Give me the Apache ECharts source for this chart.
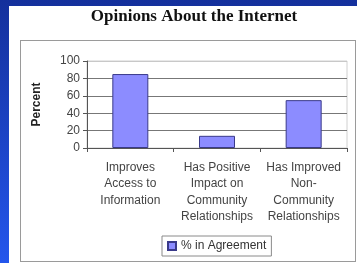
<!DOCTYPE html>
<html>
<head>
<meta charset="utf-8">
<script src="https://cdn.jsdelivr.net/npm/echarts@6/dist/echarts.min.js"></script>
<style>
  html, body { margin: 0; padding: 0; }
  #bg { position: absolute; left: 0; top: 0; width: 357px; height: 263px;
        background: linear-gradient(to bottom, #14309c, #2456ec); }
  #panel { position: absolute; left: 9px; top: 6px; width: 348px; height: 257px; background: #fff; }
  #box { position: absolute; left: 20px; top: 40px; width: 334px; height: 220px; border: 1px solid #9a9a9a; }
  #main { position: absolute; left: 0; top: 0; width: 357px; height: 263px; }
</style>
</head>
<body>
<div id="bg"></div>
<div id="panel"></div>
<div id="box"></div>
<div id="main"></div>
<script>
// 数据
var categories = [
  'Improves\nAccess to\nInformation',
  'Has Positive\nImpact on\nCommunity\nRelationships',
  'Has Improved\nNon-\nCommunity\nRelationships'
];
var agreement = [85, 14, 55];
var seriesName = '% in Agreement';

var myChart = echarts.init(document.getElementById('main'));
myChart.setOption({
  title: {
    text: 'Opinions About the Internet',
    left: 189,
    textAlign: 'center',
    top: 3,
    textStyle: { fontFamily: 'Liberation Serif', fontWeight: 'bold', fontSize: 17, color: '#111' }
  },
  legend: {
    data: [seriesName],
    left: 162,
    top: 236,
    padding: [4, 5, 4, 5],
    borderColor: '#8a8a8a',
    borderWidth: 1,
    icon: 'rect',
    itemWidth: 8,
    itemHeight: 8,
    itemGap: 4,
    textStyle: { fontFamily: 'Liberation Sans', fontSize: 12, color: '#333' }
  },
  grid: {
    left: 87,
    right: 10,
    top: 61,
    bottom: 115,
    show: true,
    borderColor: '#d0d0d0',
    borderWidth: 1
  },
  xAxis: {
    type: 'category',
    data: categories,
    axisLine: { lineStyle: { color: '#555' } },
    axisTick: { show: true, length: 4, lineStyle: { color: '#555' } },
    axisLabel: {
      margin: 11,
      lineHeight: 16.5,
      fontFamily: 'Liberation Sans',
      fontSize: 12,
      color: '#444',
      interval: 0
    }
  },
  yAxis: {
    type: 'value',
    min: 0,
    max: 100,
    interval: 20,
    name: 'Percent',
    nameLocation: 'middle',
    nameRotate: 90,
    nameGap: 44,
    nameTextStyle: { fontFamily: 'Liberation Sans', fontWeight: 'bold', fontSize: 12, color: '#222' },
    axisLine: { show: true, lineStyle: { color: '#555' } },
    axisTick: { show: true, length: 4, lineStyle: { color: '#555' } },
    axisLabel: { margin: 7, fontFamily: 'Liberation Sans', fontSize: 12, color: '#444' },
    splitLine: { lineStyle: { color: ['#777', '#777', '#777', '#777', '#777', '#c8c8c8'] } }
  },
  series: [{
    name: seriesName,
    type: 'bar',
    data: agreement,
    barWidth: 36,
    itemStyle: { color: '#8c8cff', borderColor: '#3a3a8a', borderWidth: 1 }
  }]
});
</script>
</body>
</html>
